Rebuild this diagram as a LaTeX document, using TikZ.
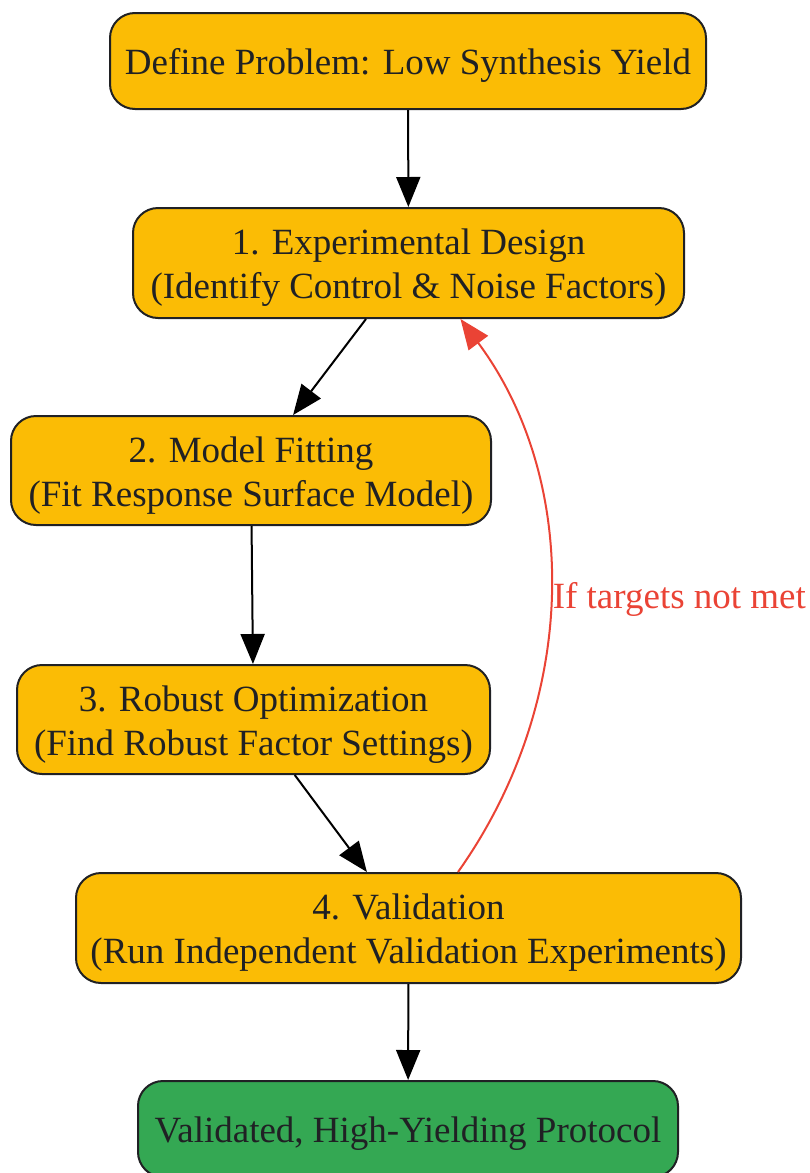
\documentclass[tikz,border=0pt]{standalone}
\usepackage{fontspec}
\setmainfont{Liberation Serif}
\usetikzlibrary{arrows.meta}

\definecolor{stepfill}{HTML}{FBBC05}
\definecolor{donefill}{HTML}{34A853}
\definecolor{loopred}{HTML}{EA4335}
\definecolor{inkdark}{HTML}{202124}

\newcommand{\topgap}{\rule{0pt}{17.5pt}}

\tikzset{
	stage/.style={draw=inkdark, line width=1pt, rounded corners=12.5pt, fill=stepfill,
		text=inkdark, align=center, inner sep=0pt, font=\fontsize{18.5}{22}\selectfont},
	flow/.style={-{Triangle[length=15pt,width=12pt]}, line width=1pt, black},
	retry/.style={-{Triangle[length=15pt,width=12pt]}, line width=1pt, loopred},
}

\begin{document}
\begin{tikzpicture}[x=0.5pt, y=-0.5pt]
		%%%%% START %%%%%
		\useasboundingbox (0, 0) rectangle (809, 1173);
		
		\node[stage, minimum width=298pt, minimum height=48pt] (problem) at (408, 61)
			{\topgap Define Problem: Low Synthesis Yield};
		\node[stage, minimum width=275.5pt, minimum height=55pt] (design) at (408.5, 263)
			{\topgap 1. Experimental Design\\(Identify Control \& Noise Factors)};
		\node[stage, minimum width=240pt, minimum height=54.5pt] (fitting) at (251, 470.5)
			{\topgap 2. Model Fitting\\(Fit Response Surface Model)};
		\node[stage, minimum width=236.5pt, minimum height=54.5pt] (robust) at (253.5, 719.5)
			{\topgap 3. Robust Optimization\\(Find Robust Factor Settings)};
		\node[stage, minimum width=332.5pt, minimum height=55pt] (validate) at (408.5, 928)
			{\topgap 4. Validation\\(Run Independent Validation Experiments)};
		\node[stage, fill=donefill, minimum width=270pt, minimum height=48pt] (protocol) at (408, 1129)
			{\topgap Validated, High-Yielding Protocol};
		
		\draw[flow] (problem) -- (design);
		\draw[flow] (design) -- (fitting);
		\draw[flow] (fitting) -- (robust);
		\draw[flow] (robust) -- (validate);
		\draw[flow] (validate) -- (protocol);
		
		% loop back when targets fail
		\draw[retry] ([xshift=24.75pt]validate.north) .. controls (580, 700) and (580, 480) ..
			node[midway, anchor=west, yshift=-4pt, inner sep=1pt, text=loopred, font=\fontsize{18.5}{22}\selectfont] (retrylabel) {If targets not met}
			([xshift=26pt]design.south);
		
		%%%%% END %%%%%
\end{tikzpicture}
\end{document}
